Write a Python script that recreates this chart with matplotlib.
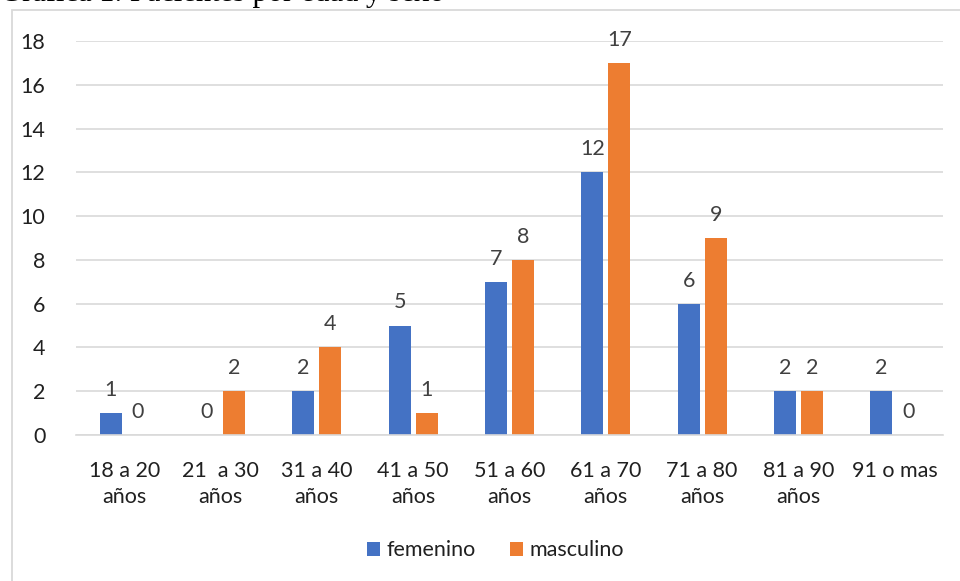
import numpy as np
import matplotlib.pyplot as plt
from matplotlib.patches import Rectangle

# Data
categorias = ['18 a 20\naños', '21  a 30\naños', '31 a 40\naños', '41 a 50\naños',
              '51 a 60\naños', '61 a 70\naños', '71 a 80\naños', '81 a 90\naños', '91 o mas']
femenino = [1, 0, 2, 5, 7, 12, 6, 2, 2]
masculino = [0, 2, 4, 1, 8, 17, 9, 2, 0]

plt.rcParams['font.family'] = ['Lato', 'DejaVu Sans']

fig = plt.figure(figsize=(9.6, 5.81), dpi=100)
ax = fig.add_axes([76/960, 1 - 435/581, (943 - 76)/960, (435 - 41)/581])

x = np.arange(len(categorias))
w = 0.23
b1 = ax.bar(x - 0.14, femenino, w, color='#4472C4', label='femenino')
b2 = ax.bar(x + 0.14, masculino, w, color='#ED7D31', label='masculino')

for bars in (b1, b2):
    for rect in bars:
        h = rect.get_height()
        ax.text(rect.get_x() + rect.get_width()/2, h + 0.6, f'{int(h)}',
                ha='center', va='bottom', fontsize=15.5, color='#404040')

ax.set_xlim(-0.5, len(categorias) - 0.5)
ax.set_ylim(0, 18)
ax.set_yticks(range(0, 19, 2))
ax.set_xticks(x)
ax.set_xticklabels(categorias, fontsize=15.5, linespacing=1.35, color='#202020')
ax.tick_params(axis='y', labelsize=15.5, length=0, pad=22, labelcolor='#202020')
ax.tick_params(axis='x', length=0, pad=19)
ax.grid(axis='y', color='#d9d9d9', linewidth=1.2)
ax.set_axisbelow(True)
for s in ['top', 'right', 'left']:
    ax.spines[s].set_visible(False)
ax.spines['bottom'].set_color('#d9d9d9')
ax.spines['bottom'].set_linewidth(1.2)

ax.legend(loc='center', bbox_to_anchor=(0.484, -0.293), ncol=2, frameon=False,
          fontsize=15.5, handlelength=0.6, handleheight=0.6, handletextpad=0.3,
          columnspacing=1.6, labelcolor='#202020')

# chart border
fig.patches.append(Rectangle((12/960, -0.01), 1, 1 - 10/581 + 0.01,
                             transform=fig.transFigure, fill=False,
                             edgecolor='#d9d9d9', linewidth=1.3))

# caption above the chart, almost entirely cut off at the top edge
fig.text(0.0, 1 - 1/581, 'Gráfica 1. Pacientes por edad y sexo', fontsize=22,
         family='Liberation Serif', va='baseline', ha='left', color='#000000')

fig.savefig('out.png', dpi=100)
